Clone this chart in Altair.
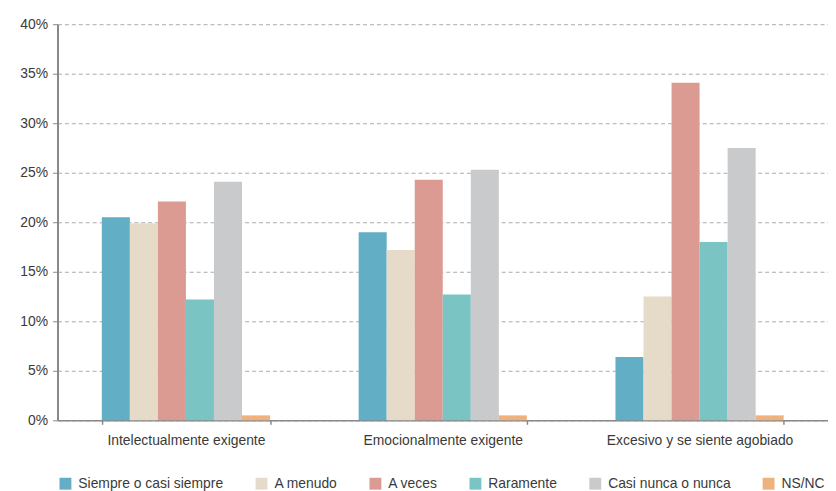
import altair as alt
import pandas as pd

groups = ["Intelectualmente exigente", "Emocionalmente exigente", "Excesivo y se siente agobiado"]
series = ["Siempre o casi siempre", "A menudo", "A veces", "Raramente", "Casi nunca o nunca", "NS/NC"]
colors = ["#62aec5", "#e6dbc8", "#dc9b92", "#7bc4c4", "#c9cacc", "#efb27e"]

v_intelectual = [20.5, 19.9, 22.1, 12.2, 24.1, 0.5]
v_emocional = [19.0, 17.2, 24.3, 12.7, 25.3, 0.5]
v_excesivo = [6.4, 12.5, 34.1, 18.0, 27.5, 0.5]

rows = []
for g, vals in zip(groups, [v_intelectual, v_emocional, v_excesivo]):
    for s, v in zip(series, vals):
        rows.append({"grupo": g, "serie": s, "valor": v / 100})
df = pd.DataFrame(rows)

FONT = "Liberation Sans"
TXT = "#3a3a3a"

chart = alt.Chart(df).mark_bar().encode(
    x=alt.X("grupo:N", sort=groups, title=None,
            scale=alt.Scale(paddingInner=0.345, paddingOuter=0.1725),
            axis=alt.Axis(labelAngle=0, labelFont=FONT, labelFontSize=14, labelColor=TXT,
                          labelLimit=400,
                          labelPadding=9, tickBand="extent", tickSize=4, tickColor="#888888",
                          tickWidth=1.5, domainColor="#888888", domainWidth=1.5, grid=False)),
    xOffset=alt.XOffset("serie:N", sort=series, scale=alt.Scale(paddingInner=0, paddingOuter=0)),
    y=alt.Y("valor:Q", title=None,
            scale=alt.Scale(domain=[0, 0.4], nice=False),
            axis=alt.Axis(format=".0%", values=[0, 0.05, 0.1, 0.15, 0.2, 0.25, 0.3, 0.35, 0.4],
                          labelFont=FONT, labelFontSize=14, labelColor=TXT, labelPadding=5,
                          ticks=True, tickSize=5, tickColor="#888888", tickWidth=1,
                          domainColor="#888888", domainWidth=2,
                          grid=True, gridColor="#aaaaaa", gridDash=[4, 3], gridWidth=1)),
    color=alt.Color("serie:N", sort=series,
                    scale=alt.Scale(domain=series, range=colors),
                    legend=alt.Legend(title=None, orient="none", direction="horizontal",
                                      legendX=1, legendY=457, symbolType="square",
                                      symbolSize=144, symbolStrokeWidth=0, symbolOpacity=1,
                                      labelFont=FONT, labelFontSize=14, labelColor=TXT,
                                      labelOffset=6, columnPadding=31, labelLimit=400)),
).properties(
    width=778, height=400,
    autosize=alt.AutoSizeParams(type="none"),
    padding={"left": 50, "top": 14, "right": 0, "bottom": 69},
).configure_view(stroke=None).configure_axis(zindex=1)

chart.save("out.html", embed_options={"renderer": "svg", "actions": False})
